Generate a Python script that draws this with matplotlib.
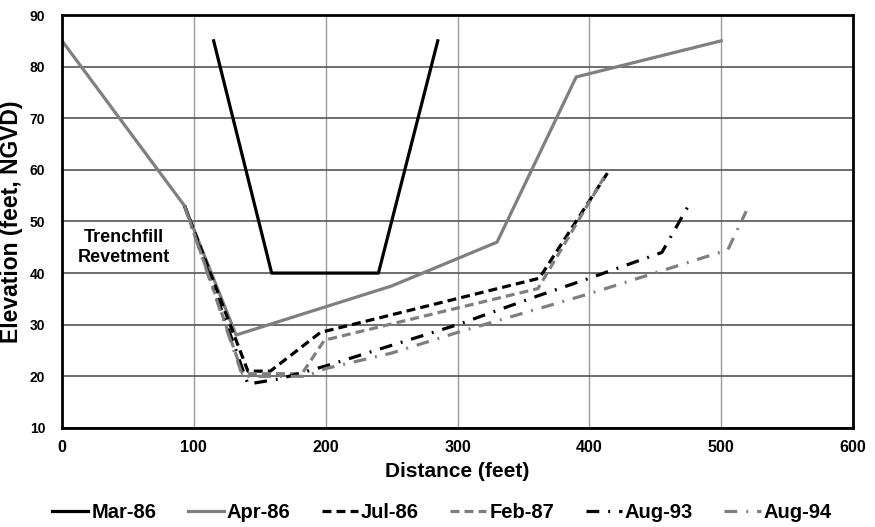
import matplotlib
matplotlib.use("Agg")
import matplotlib.pyplot as plt
from matplotlib.font_manager import FontProperties

# profile data (distance ft, elevation ft NGVD)
mar86_x = [115, 159, 240, 285]
mar86_y = [85, 40, 40, 85]

apr86_x = [0, 93, 132, 250, 330, 390, 500]
apr86_y = [85, 53, 28, 37.5, 46, 78, 85]

jul86_x = [93, 141, 158, 196, 362, 414]
jul86_y = [53, 21, 21, 28.5, 39, 59.5]

feb87_x = [93, 137, 182, 199, 361, 411]
feb87_y = [53, 20.5, 20.5, 27, 37, 58.5]

aug93_x = [93, 141, 165, 200, 250, 300, 360, 400, 455, 475]
aug93_y = [53, 18.5, 19.5, 22, 26, 30, 35.5, 39, 44, 53]

aug94_x = [93, 137, 185, 200, 250, 300, 360, 400, 505, 519]
aug94_y = [53, 20, 20, 21.5, 24.5, 28.5, 33, 36, 44.5, 52]

labels = ["Mar-86", "Apr-86", "Jul-86", "Feb-87", "Aug-93", "Aug-94"]

grey = "#7f7f7f"
font = "Liberation Sans"
fig = plt.figure(figsize=(8.75, 5.27), dpi=100)
ax = fig.add_axes([0.0709, 0.188, 0.904, 0.7835])

lw = 2.3
ax.plot(mar86_x, mar86_y, color="black", lw=lw, label=labels[0])
ax.plot(apr86_x, apr86_y, color=grey, lw=lw, label=labels[1])
ax.plot(jul86_x, jul86_y, color="black", lw=lw, dashes=(2.8, 1.6), label=labels[2])
ax.plot(feb87_x, feb87_y, color=grey, lw=lw, dashes=(2.8, 1.6), label=labels[3])
ax.plot(aug93_x, aug93_y, color="black", lw=lw, dashes=(4, 2.8, 0.6, 2.8), label=labels[4])
ax.plot(aug94_x, aug94_y, color=grey, lw=lw, dashes=(4, 2.8, 0.6, 2.8), label=labels[5])

ax.set_xlim(0, 600)
ax.set_ylim(10, 90)
ax.set_xticks(range(0, 601, 100))
ax.set_yticks(range(10, 91, 10))

ax.xaxis.grid(True, color="#9a9a9a", lw=1.0)
ax.yaxis.grid(True, color="#555555", lw=1.2)
ax.set_axisbelow(True)
for s in ax.spines.values():
    s.set_linewidth(2)
ax.tick_params(length=0)
ax.tick_params(axis="x", pad=9)
ax.tick_params(axis="y", pad=12)

for t in ax.get_xticklabels():
    t.set_fontproperties(FontProperties(family=font, weight="bold", size=11.5))
for t in ax.get_yticklabels():
    t.set_fontproperties(FontProperties(family=font, weight="bold", size=10))

ax.set_xlabel("Distance (feet)", fontsize=15, fontweight="bold", family=font, labelpad=5)
ax.set_ylabel("Elevation (feet, NGVD)", fontsize=16.5, fontweight="bold", family=font, labelpad=5)

ax.text(47, 45, "Trenchfill\nRevetment", ha="center", va="center",
        fontsize=13, fontweight="bold", family=font, linespacing=1.2)

fig.legend(loc="center", bbox_to_anchor=(0.505, 0.027), ncol=6, frameon=False,
           handlelength=1.8, handletextpad=0.15, columnspacing=1.55,
           prop=FontProperties(family=font, weight="bold", size=14.5))

fig.savefig("out.png", dpi=100)
